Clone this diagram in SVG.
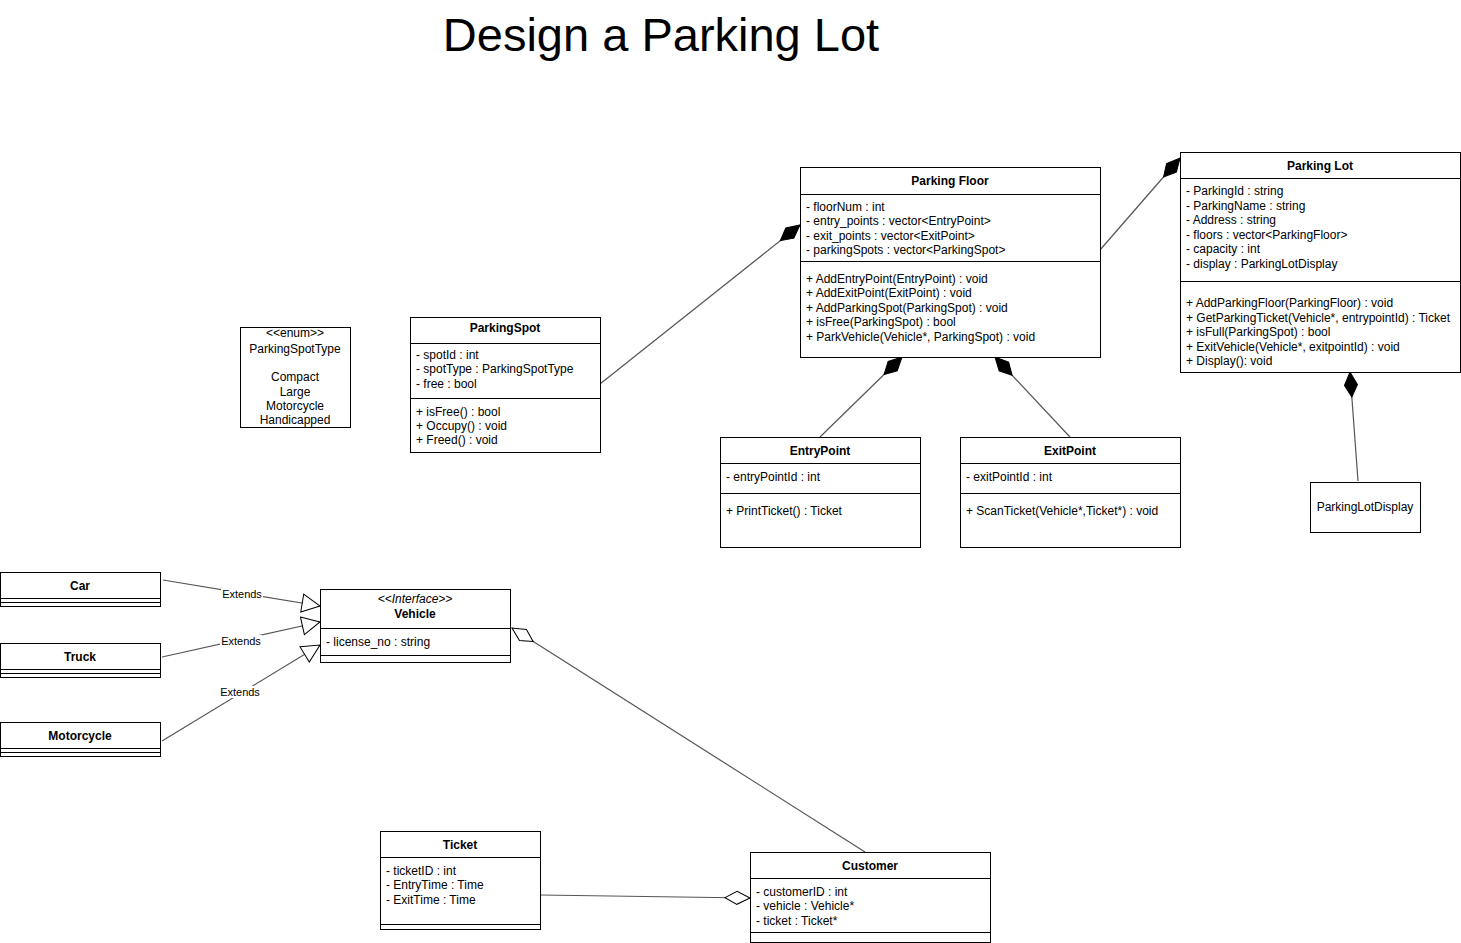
<svg xmlns="http://www.w3.org/2000/svg" width="1461" height="943" viewBox="0 0 1461 943">
<style>
text{font-family:"Liberation Sans",Arial,sans-serif;font-size:12px;fill:#000}
.t{font-weight:bold;text-anchor:middle}
.c{text-anchor:middle}
.i{font-style:italic;text-anchor:middle}
.box{fill:#fff;stroke:#000;stroke-width:1}
.sep{stroke:#000;stroke-width:1}
.edge{stroke:#555;stroke-width:1.2;fill:none}
.lbl{font-size:11px;text-anchor:middle}
.title{font-size:47px;text-anchor:middle}
</style>
<defs>
<marker id="dFill" markerUnits="userSpaceOnUse" orient="auto" refX="26" refY="8" markerWidth="28" markerHeight="16" viewBox="0 0 28 16"><path d="M1,8 L13,1.5 L26,8 L13,14.5 Z" fill="#000" stroke="#000" stroke-width="1"/></marker>
<marker id="dHollow" markerUnits="userSpaceOnUse" orient="auto" refX="26" refY="8" markerWidth="28" markerHeight="16" viewBox="0 0 28 16"><path d="M1,8 L13,1.5 L26,8 L13,14.5 Z" fill="#fff" stroke="#000" stroke-width="1"/></marker>
<marker id="tri" markerUnits="userSpaceOnUse" orient="auto" refX="19" refY="10" markerWidth="21" markerHeight="20" viewBox="0 0 21 20"><path d="M1,1 L19,10 L1,19 Z" fill="#fff" stroke="#000" stroke-width="1"/></marker>
</defs>
<rect width="1461" height="943" fill="#fff"/>
<text class="title" x="661" y="51">Design a Parking Lot</text>

<g id="connectors">
<line class="edge" x1="600" y1="384" x2="800" y2="225" marker-end="url(#dFill)"/>
<line class="edge" x1="1100" y1="250" x2="1180" y2="158" marker-end="url(#dFill)"/>
<line class="edge" x1="820" y1="437" x2="902" y2="357" marker-end="url(#dFill)"/>
<line class="edge" x1="1070" y1="437" x2="995" y2="357" marker-end="url(#dFill)"/>
<line class="edge" x1="1358" y1="481" x2="1350" y2="372" marker-end="url(#dFill)"/>
<line class="edge" x1="163" y1="580" x2="320" y2="606" marker-end="url(#tri)"/>
<line class="edge" x1="162" y1="657" x2="320" y2="622" marker-end="url(#tri)"/>
<line class="edge" x1="162" y1="741" x2="320" y2="645" marker-end="url(#tri)"/>
<line class="edge" x1="865" y1="852" x2="512" y2="628" marker-end="url(#dHollow)"/>
<line class="edge" x1="540" y1="895" x2="750" y2="898" marker-end="url(#dHollow)"/>
<rect x="221" y="588" width="42" height="12" fill="#fff"/>
<text class="lbl" x="242" y="598">Extends</text>
<rect x="220" y="635" width="42" height="12" fill="#fff"/>
<text class="lbl" x="241" y="645">Extends</text>
<rect x="219" y="686" width="42" height="12" fill="#fff"/>
<text class="lbl" x="240" y="696">Extends</text>
</g>

<g id="ParkingFloor">
<rect class="box" x="800.5" y="167.5" width="300" height="190"/>
<line class="sep" x1="800" y1="194.5" x2="1100" y2="194.5"/>
<line class="sep" x1="800" y1="261.5" x2="1100" y2="261.5"/>
<text class="t" x="950" y="185">Parking Floor</text>
<text x="806" y="211">- floorNum : int</text>
<text x="806" y="225">- entry_points : vector&lt;EntryPoint&gt;</text>
<text x="806" y="240">- exit_points : vector&lt;ExitPoint&gt;</text>
<text x="806" y="254">- parkingSpots : vector&lt;ParkingSpot&gt;</text>
<text x="806" y="283">+ AddEntryPoint(EntryPoint) : void</text>
<text x="806" y="297">+ AddExitPoint(ExitPoint) : void</text>
<text x="806" y="312">+ AddParkingSpot(ParkingSpot) : void</text>
<text x="806" y="326">+ isFree(ParkingSpot) : bool</text>
<text x="806" y="341">+ ParkVehicle(Vehicle*, ParkingSpot) : void</text>
</g>

<g id="ParkingLot">
<rect class="box" x="1180.5" y="152.5" width="280" height="220"/>
<line class="sep" x1="1180" y1="178.5" x2="1460" y2="178.5"/>
<line class="sep" x1="1180" y1="281.5" x2="1460" y2="281.5"/>
<text class="t" x="1320" y="170">Parking Lot</text>
<text x="1186" y="195">- ParkingId : string</text>
<text x="1186" y="210">- ParkingName : string</text>
<text x="1186" y="224">- Address : string</text>
<text x="1186" y="239">- floors : vector&lt;ParkingFloor&gt;</text>
<text x="1186" y="253">- capacity : int</text>
<text x="1186" y="268">- display : ParkingLotDisplay</text>
<text x="1186" y="307">+ AddParkingFloor(ParkingFloor) : void</text>
<text x="1186" y="322">+ GetParkingTicket(Vehicle*, entrypointId) : Ticket</text>
<text x="1186" y="336">+ isFull(ParkingSpot) : bool</text>
<text x="1186" y="351">+ ExitVehicle(Vehicle*, exitpointId) : void</text>
<text x="1186" y="365">+ Display(): void</text>
</g>

<g id="ParkingLotDisplay">
<rect class="box" x="1310.5" y="482.5" width="110" height="50"/>
<text class="c" x="1365" y="511">ParkingLotDisplay</text>
</g>

<g id="ParkingSpotType">
<rect class="box" x="240.5" y="327.5" width="110" height="100"/>
<text class="c" x="295" y="337">&lt;&lt;enum&gt;&gt;</text>
<text class="c" x="295" y="353">ParkingSpotType</text>
<text class="c" x="295" y="381">Compact</text>
<text class="c" x="295" y="396">Large</text>
<text class="c" x="295" y="410">Motorcycle</text>
<text class="c" x="295" y="424">Handicapped</text>
</g>

<g id="ParkingSpot">
<rect class="box" x="410.5" y="317.5" width="190" height="135"/>
<line class="sep" x1="410" y1="343.5" x2="600" y2="343.5"/>
<line class="sep" x1="410" y1="398.5" x2="600" y2="398.5"/>
<text class="t" x="505" y="332">ParkingSpot</text>
<text x="416" y="359">- spotId : int</text>
<text x="416" y="373">- spotType : ParkingSpotType</text>
<text x="416" y="388">- free : bool</text>
<text x="416" y="416">+ isFree() : bool</text>
<text x="416" y="430">+ Occupy() : void</text>
<text x="416" y="444">+ Freed() : void</text>
</g>

<g id="EntryPoint">
<rect class="box" x="720.5" y="437.5" width="200" height="110"/>
<line class="sep" x1="720" y1="463.5" x2="920" y2="463.5"/>
<line class="sep" x1="720" y1="493.5" x2="920" y2="493.5"/>
<text class="t" x="820" y="455">EntryPoint</text>
<text x="726" y="481">- entryPointId : int</text>
<text x="726" y="515">+ PrintTicket() : Ticket</text>
</g>

<g id="ExitPoint">
<rect class="box" x="960.5" y="437.5" width="220" height="110"/>
<line class="sep" x1="960" y1="463.5" x2="1180" y2="463.5"/>
<line class="sep" x1="960" y1="493.5" x2="1180" y2="493.5"/>
<text class="t" x="1070" y="455">ExitPoint</text>
<text x="966" y="481">- exitPointId : int</text>
<text x="966" y="515">+ ScanTicket(Vehicle*,Ticket*) : void</text>
</g>

<g id="Car">
<rect class="box" x="0.5" y="572.5" width="160" height="34"/>
<line class="sep" x1="0" y1="598.5" x2="160" y2="598.5"/>
<line class="sep" x1="0" y1="602.5" x2="160" y2="602.5"/>
<text class="t" x="80" y="590">Car</text>
</g>

<g id="Truck">
<rect class="box" x="0.5" y="643.5" width="160" height="34"/>
<line class="sep" x1="0" y1="669.5" x2="160" y2="669.5"/>
<line class="sep" x1="0" y1="673.5" x2="160" y2="673.5"/>
<text class="t" x="80" y="661">Truck</text>
</g>

<g id="Motorcycle">
<rect class="box" x="0.5" y="722.5" width="160" height="34"/>
<line class="sep" x1="0" y1="748.5" x2="160" y2="748.5"/>
<line class="sep" x1="0" y1="752.5" x2="160" y2="752.5"/>
<text class="t" x="80" y="740">Motorcycle</text>
</g>

<g id="Vehicle">
<rect class="box" x="320.5" y="589.5" width="190" height="73"/>
<line class="sep" x1="320" y1="628.5" x2="510" y2="628.5"/>
<line class="sep" x1="320" y1="655.5" x2="510" y2="655.5"/>
<text class="i" x="415" y="603" font-size="11">&lt;&lt;Interface&gt;&gt;</text>
<text class="t" x="415" y="618">Vehicle</text>
<text x="326" y="646">- license_no : string</text>
</g>

<g id="Ticket">
<rect class="box" x="380.5" y="831.5" width="160" height="98"/>
<line class="sep" x1="380" y1="857.5" x2="540" y2="857.5"/>
<line class="sep" x1="380" y1="924.5" x2="540" y2="924.5"/>
<text class="t" x="460" y="849">Ticket</text>
<text x="386" y="875">- ticketID : int</text>
<text x="386" y="889">- EntryTime : Time</text>
<text x="386" y="904">- ExitTime : Time</text>
</g>

<g id="Customer">
<rect class="box" x="750.5" y="852.5" width="240" height="90"/>
<line class="sep" x1="750" y1="878.5" x2="990" y2="878.5"/>
<line class="sep" x1="750" y1="932.5" x2="990" y2="932.5"/>
<text class="t" x="870" y="870">Customer</text>
<text x="756" y="896">- customerID : int</text>
<text x="756" y="910">- vehicle : Vehicle*</text>
<text x="756" y="925">- ticket : Ticket*</text>
</g>
</svg>
